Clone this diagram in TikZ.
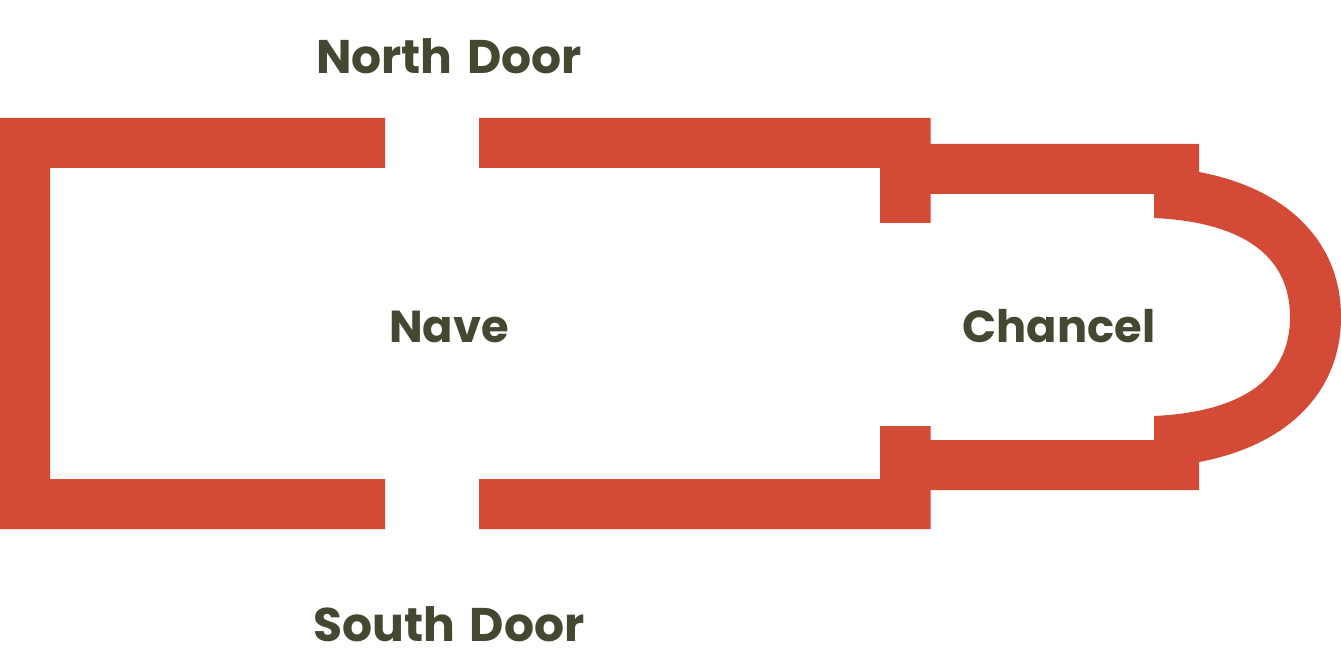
\documentclass[tikz,border=0pt]{standalone}
\usepackage{fontspec}
\setmainfont{Poppins}[BoldFont=* Bold]
\newfontfamily\doorfont{Poppins Bold}[WordSpace=1.45]
\definecolor{wall}{HTML}{D34A36}
\definecolor{ink}{HTML}{444830}
\tikzset{wallshape/.style={fill=wall,draw=none},
 lab/.style={text=ink,font=\fontsize{44.8}{50}\selectfont\bfseries,inner sep=0pt,anchor=base},
 doorlab/.style={text=ink,font=\doorfont\fontsize{47.2}{50}\selectfont,inner sep=0pt,anchor=base}}
\begin{document}
\begin{tikzpicture}[x=1pt,y=-1pt]
\useasboundingbox (0,0) rectangle (1341,671);
\fill[wallshape] (0,118) -- (385,118) -- (385,168) -- (50,168) -- (50,479) -- (385,479) -- (385,529) -- (0,529) -- cycle;
\fill[wallshape] (479,118) -- (930.5,118) -- (930.5,144) -- (1199,144) -- (1199,172)
 .. controls (1285,188) and (1341,240) .. (1341,317)
 .. controls (1341,394) and (1285,446) .. (1199,462)
 -- (1199,490) -- (930.5,490) -- (930.5,529) -- (479,529) -- (479,479) -- (880,479) -- (880,426) -- (930.5,426) -- (930.5,440) -- (1154,440) -- (1154,416)
 .. controls (1240,412) and (1290,380) .. (1290,317)
 .. controls (1290,254) and (1240,222) .. (1154,218)
 -- (1154,194) -- (930.5,194) -- (930.5,223) -- (880,223) -- (880,168) -- (479,168) -- cycle;
\node[doorlab] (north) at (449,74) {North Door};
\node[lab] (nave) at (449,342) {Nave};
\node[lab] (chancel) at (1059,342) {Chancel};
\node[doorlab] (south) at (449,641) {South Door};
\end{tikzpicture}
\end{document}
